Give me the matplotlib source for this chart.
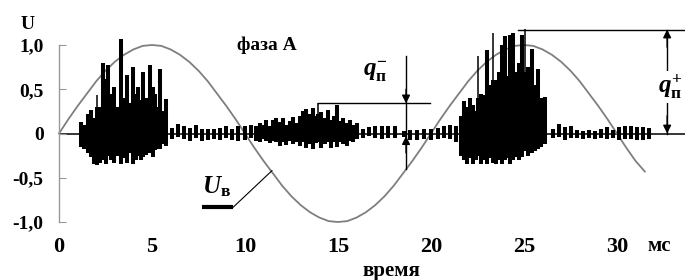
import numpy as np
import matplotlib
matplotlib.use("Agg")
import matplotlib.pyplot as plt

plt.rcParams['font.family'] = ['Liberation Serif', 'DejaVu Serif']
plt.rcParams['font.weight'] = 'bold'
plt.rcParams['mathtext.fontset'] = 'custom'
plt.rcParams['mathtext.rm'] = 'Liberation Serif:bold'
plt.rcParams['mathtext.it'] = 'Liberation Serif:italic:bold'
plt.rcParams['mathtext.bf'] = 'Liberation Serif:bold'

sine_step = 0.5
sine_u = [0, .16, .31, .45, .59, .71, .81, .89, .95, .99, 1.0, .99, .95, .89, .81, .71, .59, .45, .31, .16,
          0, -.16, -.31, -.45, -.59, -.71, -.81, -.89, -.95, -.99, -1.0, -.99, -.95, -.89, -.81, -.71, -.59, -.45, -.31, -.16,
          0, .16, .31, .45, .59, .71, .81, .89, .95, .99, 1.0, .99, .95, .89, .81, .71, .59, .45, .31, .16,
          0, -.16, -.31, -.43]

# partial discharge pulses: time (ms), top and bottom amplitude
pulse_t = [1.18, 1.34, 1.56, 1.72, 1.88, 2.04, 2.20, 2.37, 2.53, 2.63, 2.80, 2.96, 3.12, 3.33, 3.49, 3.66,
           3.82, 3.98, 4.14, 4.25, 4.41, 4.52, 4.68, 4.89, 5.05, 5.16, 5.32, 5.43, 5.59, 5.75,
           6.08, 6.40, 6.72, 7.04, 7.37, 7.69, 8.01, 8.33, 8.66, 8.98, 9.30, 9.62, 10.0, 10.32,
           10.59, 10.81, 10.97, 11.13, 11.34, 11.51, 11.67, 11.88, 12.04, 12.20, 12.42, 12.58, 12.74,
           12.96, 13.12, 13.28, 13.44, 13.66, 13.82, 13.92, 14.09, 14.30, 14.46, 14.62, 14.78, 14.95,
           15.11, 15.27, 15.48, 15.65, 15.81, 16.02,
           16.34, 16.67, 16.99, 17.37, 17.69, 18.06, 18.55, 18.87, 19.25, 19.62, 20.0, 20.38, 20.70, 21.02, 21.34,
           21.61, 21.77, 21.94, 22.10, 22.26, 22.42, 22.53, 22.69, 22.90, 23.01, 23.17, 23.33, 23.49, 23.66,
           23.82, 23.98, 24.14, 24.25, 24.41, 24.57, 24.73, 24.89, 25.05, 25.22, 25.43, 25.59, 25.75, 25.91, 26.13,
           26.56, 26.88, 27.20, 27.53, 27.85, 28.17, 28.49, 28.82, 29.14, 29.46, 29.78, 30.11, 30.43, 30.75,
           31.08, 31.40, 31.72]
pulse_up = [0.13, 0.10, 0.22, 0.27, 0.18, 0.30, 0.30, 0.80, 0.62, 0.77, 0.45, 0.52, 0.30, 1.07, 0.40, 0.66,
            0.35, 0.75, 0.45, 0.52, 0.38, 0.69, 0.40, 0.77, 0.52, 0.45, 0.30, 0.73, 0.25, 0.39,
            0.06, 0.11, 0.09, 0.06, 0.10, 0.05, 0.05, 0.05, 0.06, 0.09, 0.05, 0.09, 0.08, 0.10,
            0.08, 0.12, 0.10, 0.15, 0.09, 0.15, 0.17, 0.13, 0.18, 0.10, 0.14, 0.19, 0.12,
            0.20, 0.25, 0.28, 0.22, 0.29, 0.20, 0.22, 0.24, 0.17, 0.26, 0.15, 0.20, 0.32,
            0.14, 0.18, 0.12, 0.15, 0.10, 0.12,
            0.05, 0.07, 0.09, 0.08, 0.08, 0.09, 0.03, 0.04, 0.04, 0.05, 0.05, 0.06, 0.08, 0.10, 0.08,
            0.20, 0.37, 0.30, 0.40, 0.32, 0.25, 0.40, 0.45, 0.43, 0.94, 0.55, 0.60, 0.60, 0.70,
            1.00, 1.10, 0.65, 1.11, 1.13, 0.70, 0.80, 1.11, 0.70, 0.75, 0.96, 0.55, 0.73, 0.40, 0.41,
            0.05, 0.11, 0.07, 0.08, 0.04, 0.03, 0.04, 0.03, 0.05, 0.07, 0.04, 0.07, 0.08, 0.08,
            0.07, 0.07, 0.06]
pulse_dn = [-0.15, -0.17, -0.22, -0.27, -0.34, -0.36, -0.33, -0.30, -0.35, -0.25, -0.30, -0.33, -0.25, -0.34,
            -0.28, -0.33, -0.22, -0.34, -0.30, -0.25, -0.30, -0.27, -0.24, -0.22, -0.26, -0.19, -0.18, -0.18,
            -0.12, -0.14,
            -0.06, -0.04, -0.06, -0.09, -0.05, -0.08, -0.07, -0.06, -0.07, -0.05, -0.07, -0.09, -0.07, -0.05,
            -0.08, -0.10, -0.06, -0.08, -0.11, -0.08, -0.10, -0.14, -0.10, -0.13, -0.09, -0.12, -0.10,
            -0.14, -0.10, -0.16, -0.12, -0.17, -0.11, -0.10, -0.16, -0.12, -0.10, -0.16, -0.10, -0.15,
            -0.10, -0.12, -0.14, -0.08, -0.10, -0.06,
            -0.05, -0.03, -0.05, -0.06, -0.05, -0.05, -0.04, -0.07, -0.07, -0.06, -0.07, -0.06, -0.05, -0.06, -0.10,
            -0.25, -0.30, -0.35, -0.28, -0.35, -0.30, -0.25, -0.34, -0.30, -0.34, -0.28, -0.33, -0.34, -0.30,
            -0.34, -0.30, -0.28, -0.34, -0.30, -0.27, -0.30, -0.27, -0.20, -0.25, -0.22, -0.20, -0.17, -0.15, -0.12,
            -0.05, -0.04, -0.07, -0.05, -0.05, -0.06, -0.05, -0.06, -0.05, -0.06, -0.05, -0.07, -0.06, -0.06,
            -0.07, -0.07, -0.06]

# thin tall spikes
spike_t = [2.04, 13.92, 22.53, 23.33, 25.05]
spike_up = [0.43, 0.34, 0.88, 1.13, 1.18]

y_ticks = [-1.0, -0.5, 0, 0.5, 1.0]
y_labels = ['-1,0', '-0,5', '0', '0,5', '1,0']
x_ticks = [0, 5, 10, 15, 20, 25, 30]

q_minus = 0.34
q_plus = 1.175
q_minus_t = 18.66
q_plus_t = 32.7
t_max = 33.66

fig = plt.figure(figsize=(6.85, 2.8), dpi=100)
ax = fig.add_axes([59 / 685, 58 / 280, 626 / 685, 177 / 280])
ax.set_xlim(0, t_max)
ax.set_ylim(-1, 1)

sine_t = np.arange(len(sine_u)) * sine_step
ax.plot(sine_t, sine_u, color='#7f7f7f', lw=1.3, clip_on=False, zorder=2)

ax.axhline(0, color='k', lw=1.1, zorder=1)
ax.vlines(pulse_t, pulse_dn, pulse_up, color='k', lw=2.9, clip_on=False, zorder=3)
ax.vlines(spike_t, 0, spike_up, color='k', lw=1.1, clip_on=False, zorder=3)

# q- marker
ax.plot([13.9, 19.95], [q_minus, q_minus], color='k', lw=1.0, clip_on=False)
ax.plot([q_minus_t, q_minus_t], [0.88, -0.40], color='k', lw=1.0, clip_on=False)
ax.annotate('', xy=(q_minus_t, q_minus), xytext=(q_minus_t, q_minus + 0.16), annotation_clip=False,
            arrowprops=dict(arrowstyle='-|>', mutation_scale=12, color='k', lw=1, shrinkA=0, shrinkB=0))
ax.annotate('', xy=(q_minus_t, -0.03), xytext=(q_minus_t, -0.22), annotation_clip=False,
            arrowprops=dict(arrowstyle='-|>', mutation_scale=12, color='k', lw=1, shrinkA=0, shrinkB=0))
ax.text(17.0, 0.70, r'$q_{\mathbf{п}}^{-}$', fontsize=18, ha='center', va='center')

# q+ marker
ax.plot([24.7, t_max], [q_plus, q_plus], color='k', lw=1.0, clip_on=False)
ax.plot([q_plus_t, q_plus_t], [0, q_plus], color='k', lw=1.0, clip_on=False)
ax.annotate('', xy=(q_plus_t, q_plus), xytext=(q_plus_t, q_plus - 0.2), annotation_clip=False,
            arrowprops=dict(arrowstyle='-|>', mutation_scale=12, color='k', lw=1, shrinkA=0, shrinkB=0))
ax.annotate('', xy=(q_plus_t, 0), xytext=(q_plus_t, 0.2), annotation_clip=False,
            arrowprops=dict(arrowstyle='-|>', mutation_scale=12, color='k', lw=1, shrinkA=0, shrinkB=0))
ax.text(32.85, 0.53, r'$q_{\mathbf{п}}^{+}$', fontsize=18, ha='center', va='center',
        bbox=dict(facecolor='white', edgecolor='none', pad=1))

# U_в label with underline and leader
ax.text(8.45, -0.60, r'$U_{\mathbf{в}}$', fontsize=18, ha='center', va='center')
ax.plot([7.67, 9.35], [-0.836, -0.836], color='k', lw=3.0, solid_capstyle='butt', clip_on=False)
ax.plot([9.35, 11.45], [-0.836, -0.42], color='k', lw=0.8, clip_on=False)

ax.text(11.2, 1.0, 'фаза А', fontsize=14, ha='center', va='center')
ax.text(-1.67, 1.23, 'U', fontsize=14, ha='center', va='center')
ax.text(32.3, -1.27, 'мс', fontsize=15, ha='center', va='center')
ax.text(17.85, -1.55, 'время', fontsize=15, ha='center', va='center')

ax.set_yticks(y_ticks)
ax.set_yticklabels(y_labels)
ax.set_xticks(x_ticks)
ax.set_xticklabels([str(v) for v in x_ticks])
ax.tick_params(axis='y', direction='in', length=5, width=0.8, color='#999999', pad=11, labelsize=14)
ax.tick_params(axis='x', length=0, pad=11, labelsize=16)

for side in ['top', 'right', 'bottom']:
    ax.spines[side].set_visible(False)
ax.spines['left'].set_color('#999999')
ax.spines['left'].set_linewidth(1.0)

fig.savefig('out.png', dpi=100)
